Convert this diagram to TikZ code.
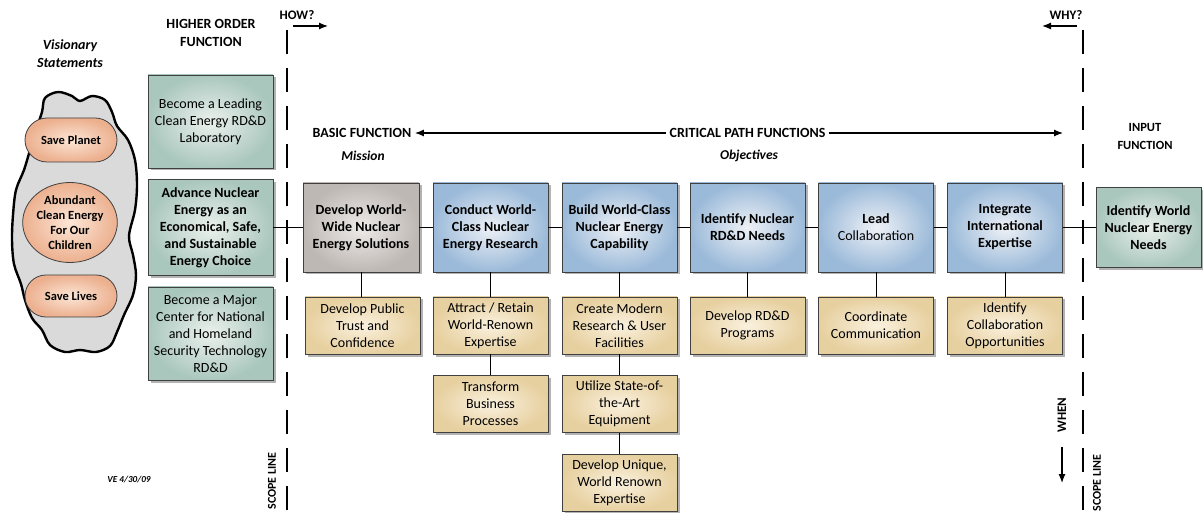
\documentclass[tikz,border=0pt]{standalone}
\usepackage{fontspec}
\setmainfont{Carlito}
\usetikzlibrary{arrows.meta,shadows,shapes.geometric}
\definecolor{tealout}{RGB}{170,199,190}
\definecolor{tealin}{RGB}{235,241,237}
\definecolor{blueout}{RGB}{155,186,217}
\definecolor{bluein}{RGB}{238,241,246}
\definecolor{grayout}{RGB}{190,184,180}
\definecolor{grayin}{RGB}{238,235,232}
\definecolor{tanout}{RGB}{231,208,160}
\definecolor{tanin}{RGB}{250,241,222}
\definecolor{peachout}{RGB}{236,176,143}
\definecolor{peachin}{RGB}{252,230,214}
\definecolor{cloudfill}{RGB}{218,218,218}
\begin{document}
\begin{tikzpicture}[x=1pt,y=-1pt,
  box/.style={draw=black!75, line width=0.8pt, align=center, inner sep=2pt,
    font=\fontsize{14}{17}\selectfont,
    drop shadow={shadow xshift=2.5pt, shadow yshift=-2.5pt, fill=black!50, opacity=0.6}},
  bbox/.style={font=\bfseries\fontsize{14}{17}\selectfont},
  tealbox/.style={box, shading=radial, inner color=tealin, outer color=tealout, minimum width=125pt},
  bluebox/.style={box, shading=radial, inner color=bluein, outer color=blueout, minimum width=115pt, minimum height=89pt},
  graybox/.style={box, shading=radial, inner color=grayin, outer color=grayout, minimum width=116pt, minimum height=89pt},
  tanbox/.style={box, shading=radial, inner color=tanin, outer color=tanout, minimum width=115pt, minimum height=57pt},
  oval/.style={draw=black!75, line width=0.8pt, align=center, inner sep=1pt,
    shading=radial, inner color=peachin, outer color=peachout,
    font=\bfseries\fontsize{12.5}{15}\selectfont},
  head/.style={align=center, font=\bfseries\fontsize{14}{18}\selectfont},
  sub/.style={align=center, font=\bfseries\itshape\fontsize{13.5}{18}\selectfont},
  small/.style={font=\bfseries\fontsize{12}{14}\selectfont},
  scopeline/.style={line width=1.6pt, dash pattern=on 24pt off 14pt},
  conn/.style={line width=0.9pt},
  arr/.style={line width=1.2pt, -{Latex[length=9pt,width=7pt]}}
]
\useasboundingbox (0,0) rectangle (1203,513);

% cloud
\draw[line width=2.4pt, fill=cloudfill]
  plot[smooth cycle, tension=0.55] coordinates {
  (42,112) (45,98) (58,92) (72,96) (80,101) (92,96) (105,100) (112,112)
  (117,126) (128,140) (135,160) (137,185) (135,210) (129,236) (133,255)
  (136,275) (133,295) (124,315) (117,332) (110,346) (96,352) (80,350)
  (65,352) (50,345) (42,330) (32,318) (25,300) (21,284) (14,264) (12,240)
  (13,215) (16,190) (24,170) (30,150) (36,130)};

\node[sub, font=\bfseries\itshape\fontsize{14}{18}\selectfont] (vis) at (70,54) {Visionary\\Statements};
\node[oval, minimum width=92pt, minimum height=44pt, rounded corners=22pt] (o1) at (71,140) {Save Planet};
\node[oval, ellipse, minimum width=87pt, minimum height=80pt, inner sep=0pt] (o2) at (70,222.5) {Abundant\\Clean Energy\\For Our\\Children};
\node[oval, minimum width=92pt, minimum height=42pt, rounded corners=21pt] (o3) at (71,296) {Save Lives};

% headings
\node[head] (hof) at (211,33) {HIGHER ORDER\\FUNCTION};
\node[head, font=\bfseries\fontsize{13}{15}\selectfont] (how) at (297,15) {HOW?};
\node[head, font=\bfseries\fontsize{13}{15}\selectfont] (why) at (1066,15) {WHY?};
\node[head] (bf) at (362,133) {BASIC FUNCTION};
\node[head] (cp) at (747.5,133) {CRITICAL PATH FUNCTIONS};
\node[sub] (mis) at (363,156) {Mission};
\node[sub] (obj) at (749,156) {Objectives};
\node[head, font=\bfseries\fontsize{12.5}{18}\selectfont] (inf) at (1145,136) {INPUT\\FUNCTION};
\node[font=\bfseries\itshape\fontsize{9.2}{11}\selectfont] (ve) at (129,480) {VE 4/30/09};

% scope lines
\coordinate (s1t) at (287,30); \coordinate (s1b) at (287,513);
\coordinate (s2t) at (1083,30); \coordinate (s2b) at (1083,513);
\draw[scopeline] (s1t) -- (s1b);
\draw[scopeline] (s2t) -- (s2b);
\node[small, rotate=90] (scl1) at (272,481) {SCOPE LINE};
\node[small, rotate=90] (scl2) at (1097,483) {SCOPE LINE};
\node[small, font=\bfseries\fontsize{13}{15}\selectfont, rotate=90] (when) at (1062,415) {WHEN};

% HOW / WHY / WHEN arrows
\coordinate (ha) at (293,26); \coordinate (hb) at (328,26);
\draw[arr] (ha) -- (hb);
\coordinate (wa) at (1077,26); \coordinate (wb) at (1042,26);
\draw[arr] (wa) -- (wb);
\coordinate (na) at (1062,447); \coordinate (nb) at (1062,483);
\draw[arr] (na) -- (nb);
\coordinate (cpend) at (1063,133);
\draw[arr] (cp.west) -- (bf.east);
\draw[arr] (cp.east) -- (cpend);

% left boxes
\node[tealbox, minimum height=93pt] (h1) at (210.5,121.5) {Become a Leading\\Clean Energy RD\&D\\Laboratory};
\node[tealbox, bbox, minimum height=96pt] (h2) at (210.5,227.5) {Advance Nuclear\\Energy as an\\Economical, Safe,\\and Sustainable\\Energy Choice};
\node[tealbox, minimum height=93pt] (h3) at (210.5,333.5) {Become a Major\\Center for National\\and Homeland\\Security Technology\\RD\&D};

% main row
\node[graybox, bbox] (b1) at (361,227.5) {Develop World-\\Wide Nuclear\\Energy Solutions};
\node[bluebox, bbox] (b2) at (490.5,227.5) {Conduct World-\\Class Nuclear\\Energy Research};
\node[bluebox, bbox] (b3) at (619.5,227.5) {Build World-Class\\Nuclear Energy\\Capability};
\node[bluebox, bbox] (b4) at (747.5,227.5) {Identify Nuclear\\RD\&D Needs};
\node[bluebox] (b5) at (876,227.5) {{\bfseries Lead}\\Collaboration};
\node[bluebox, bbox] (b6) at (1005,227.5) {Integrate\\International\\Expertise};
\node[tealbox, bbox, minimum width=105pt, minimum height=80pt] (inp) at (1148.5,227.5) {Identify World\\Nuclear Energy\\Needs};

% lower boxes
\node[tanbox] (l1) at (362.5,325.5) {Develop Public\\Trust and\\Confidence};
\node[tanbox] (l2) at (490.5,325.5) {Attract / Retain\\World-Renown\\Expertise};
\node[tanbox] (l2b) at (490.5,404) {Transform\\Business\\Processes};
\node[tanbox] (l3) at (619.5,325.5) {Create Modern\\Research \& User\\Facilities};
\node[tanbox] (l3b) at (619.5,404) {Utilize State-of-\\the-Art\\Equipment};
\node[tanbox] (l3c) at (619.5,483) {Develop Unique,\\World Renown\\Expertise};
\node[tanbox] (l4) at (747.5,325.5) {Develop RD\&D\\Programs};
\node[tanbox] (l5) at (876,325.5) {Coordinate\\Communication};
\node[tanbox] (l6) at (1005,325.5) {Identify\\Collaboration\\Opportunities};

% connectors
\draw[conn] (h2.east) -- (b1.west);
\draw[conn] (b1.east) -- (b2.west);
\draw[conn] (b2.east) -- (b3.west);
\draw[conn] (b3.east) -- (b4.west);
\draw[conn] (b4.east) -- (b5.west);
\draw[conn] (b5.east) -- (b6.west);
\draw[conn] (b6.east) -- (inp.west);
\draw[conn] (b1.south) -- (b1.south |- l1.north);
\draw[conn] (b2.south) -- (l2.north);
\draw[conn] (l2.south) -- (l2b.north);
\draw[conn] (b3.south) -- (l3.north);
\draw[conn] (l3.south) -- (l3b.north);
\draw[conn] (l3b.south) -- (l3c.north);
\draw[conn] (b4.south) -- (l4.north);
\draw[conn] (b5.south) -- (l5.north);
\draw[conn] (b6.south) -- (l6.north);
\end{tikzpicture}
\end{document}
